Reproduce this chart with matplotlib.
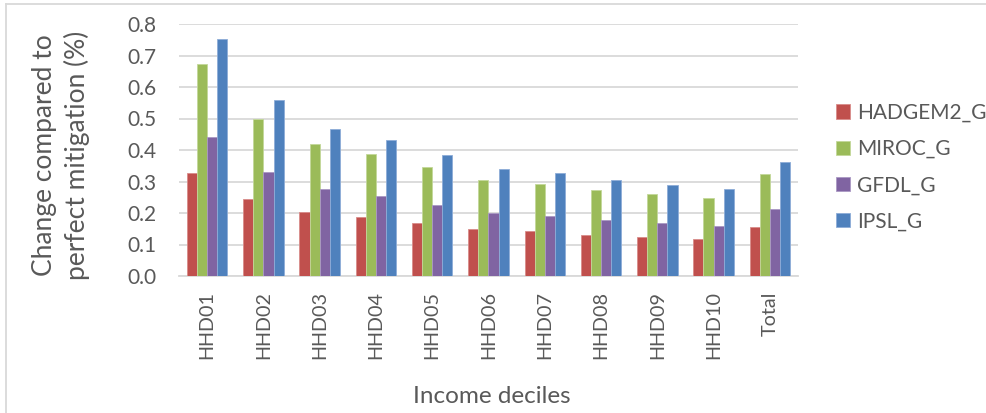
import numpy as np
import matplotlib
matplotlib.use("Agg")
import matplotlib.pyplot as plt
from matplotlib.lines import Line2D

categories = ["HHD01", "HHD02", "HHD03", "HHD04", "HHD05", "HHD06",
              "HHD07", "HHD08", "HHD09", "HHD10", "Total"]
series_names = ["HADGEM2_G", "MIROC_G", "GFDL_G", "IPSL_G"]
hadgem2 = [0.327, 0.244, 0.204, 0.187, 0.167, 0.148, 0.142, 0.131, 0.124, 0.116, 0.157]
miroc = [0.673, 0.500, 0.419, 0.386, 0.345, 0.305, 0.292, 0.273, 0.260, 0.248, 0.324]
gfdl = [0.442, 0.329, 0.276, 0.254, 0.225, 0.199, 0.190, 0.178, 0.167, 0.158, 0.212]
ipsl = [0.751, 0.559, 0.468, 0.431, 0.384, 0.340, 0.327, 0.304, 0.289, 0.275, 0.361]
yticks = [0.0, 0.1, 0.2, 0.3, 0.4, 0.5, 0.6, 0.7, 0.8]

colors = ["#C0504D", "#9BBB59", "#8064A2", "#4F81BD"]
edges = ["#D98C8A", "#C3D89A", "#AA98C4", "#8DADD8"]
txt = "#595959"
grid = "#D9D9D9"

plt.rcParams["font.family"] = ["Lato", "DejaVu Sans"]

fig = plt.figure(figsize=(9.87, 4.13), dpi=100)
ax = fig.add_axes([179 / 987, 1 - 276 / 413, (798 - 179) / 987, (276 - 24) / 413])

x = np.arange(len(categories))
w = 0.18
for i, (vals, c, ec, name) in enumerate(zip([hadgem2, miroc, gfdl, ipsl], colors, edges, series_names)):
    ax.bar(x + (i - 1.5) * w, vals, w, color=c, edgecolor=ec, linewidth=0.6,
           label=name, zorder=3)

ax.set_xlim(-0.5, len(categories) - 0.5)
ax.set_ylim(0, 0.8)
ax.set_yticks(yticks)
ax.set_yticklabels([f"{v:.1f}" for v in yticks])
ax.set_xticks(x)
ax.set_xticklabels(categories, rotation=90)
ax.tick_params(axis="y", length=0, pad=16, labelsize=15, labelcolor=txt)
ax.tick_params(axis="x", length=0, pad=11, labelsize=14.2, labelcolor=txt)
ax.yaxis.grid(True, color=grid, linewidth=1.3, zorder=0)
for s in ["top", "right", "left"]:
    ax.spines[s].set_visible(False)
ax.spines["bottom"].set_color(grid)
ax.spines["bottom"].set_linewidth(1.3)

ax.set_xlabel("Income deciles", fontsize=17.5, color=txt, va="top")
ax.xaxis.set_label_coords(0.505, -0.435)
ax.set_ylabel("Change compared to\nperfect mitigation (%)", fontsize=19,
              color=txt, linespacing=1.35)
ax.yaxis.set_label_coords(-0.143, 0.48)

leg = ax.legend(loc="upper left", bbox_to_anchor=(817 / 987, 1 - 84 / 413),
                bbox_transform=fig.transFigure, frameon=False, fontsize=15,
                handlelength=0.67, handleheight=0.67, handletextpad=0.35,
                labelspacing=0.78)
for t in leg.get_texts():
    t.set_color(txt)

# outer chart frame (top and left edges)
fig.add_artist(Line2D([6 / 987, 1], [1 - 4 / 413] * 2, color=grid, lw=1.3,
                      transform=fig.transFigure))
fig.add_artist(Line2D([6 / 987] * 2, [0, 1 - 4 / 413], color=grid, lw=1.3,
                      transform=fig.transFigure))

fig.savefig("out.png", dpi=100)
